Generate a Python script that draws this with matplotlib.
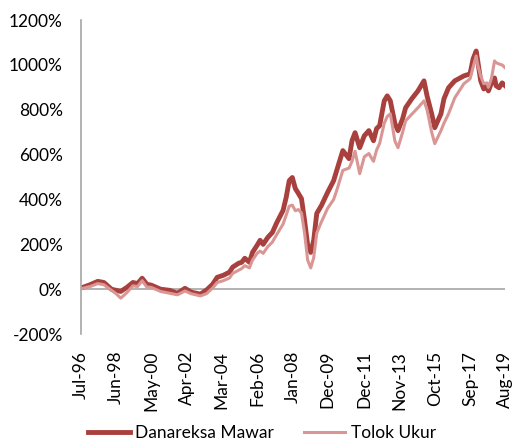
import matplotlib
matplotlib.use("Agg")
import matplotlib.pyplot as plt
import pandas as pd

dates = [
    "1996-07", "1997-01", "1997-06", "1997-10", "1998-03", "1998-06", "1998-09",
    "1999-01", "1999-05", "1999-08", "1999-11", "2000-02", "2000-05", "2000-11",
    "2001-05", "2001-10", "2002-03", "2002-07", "2003-01", "2003-05", "2003-09",
    "2003-12", "2004-04", "2004-08", "2004-10", "2005-02", "2005-04", "2005-06",
    "2005-09", "2005-11", "2006-02", "2006-04", "2006-06", "2006-09", "2006-12",
    "2007-03", "2007-07", "2007-09", "2007-11", "2008-01", "2008-03", "2008-05",
    "2008-07", "2008-09", "2008-11", "2009-01", "2009-03", "2009-05", "2009-08",
    "2009-12", "2010-04", "2010-06", "2010-10", "2011-02", "2011-04", "2011-06",
    "2011-09", "2011-12", "2012-03", "2012-06", "2012-08", "2012-10", "2013-01",
    "2013-03", "2013-05", "2013-08", "2013-10", "2014-01", "2014-03", "2014-07",
    "2014-11", "2015-03", "2015-05", "2015-08", "2015-10", "2016-02", "2016-04",
    "2016-07", "2016-11", "2017-05", "2017-09", "2017-11", "2018-01", "2018-02",
    "2018-04", "2018-06", "2018-08", "2018-09", "2018-11", "2019-01", "2019-02",
    "2019-04", "2019-06", "2019-08",
]

danareksa_mawar = [
    5, 20, 35, 30, 0, -5, -10,
    8, 30, 25, 49, 22, 18, 0,
    -5, -18, 4, -13, -22, -4, 22,
    53, 62, 76, 98, 116, 120, 138,
    120, 164, 196, 218, 200, 231, 253,
    298, 351, 409, 484, 498, 449, 427,
    404, 307, 196, 164, 218, 338, 373,
    431, 484, 529, 618, 582, 662, 698,
    631, 684, 707, 662, 716, 729, 840,
    862, 840, 738, 707, 760, 809, 849,
    884, 929, 862, 782, 720, 782, 849,
    898, 929, 951, 960, 1027, 1062, 1018,
    929, 893, 907, 884, 920, 942, 907,
    898, 920, 907,
]

tolok_ukur = [
    2, 12, 25, 20, -5, -20, -40,
    -15, 15, 12, 38, 10, 8, -10,
    -18, -25, -8, -20, -30, -20, 5,
    30, 38, 50, 70, 85, 92, 105,
    95, 130, 160, 170, 160, 190, 210,
    245, 290, 330, 370, 375, 350, 355,
    340, 250, 130, 95, 140, 250, 300,
    360, 400, 440, 530, 540, 570, 615,
    515, 590, 605, 570, 620, 650, 740,
    770, 782, 660, 631, 700, 751, 780,
    809, 840, 800, 700, 649, 707, 740,
    782, 853, 916, 938, 990, 1040, 1000,
    950, 916, 920, 900, 940, 1018, 1010,
    1004, 1000, 987,
]

tick_labels = ["Jul-96", "Jun-98", "May-00", "Apr-02", "Mar-04", "Feb-06", "Jan-08",
               "Dec-09", "Dec-11", "Nov-13", "Oct-15", "Sep-17", "Aug-19"]
y_ticks = [-200, 0, 200, 400, 600, 800, 1000, 1200]

plt.rcParams['font.family'] = ['Lato', 'DejaVu Sans']

x = pd.to_datetime(dates, format="%Y-%m")
tick_pos = pd.to_datetime(tick_labels, format="%b-%y")

fig = plt.figure(figsize=(5.15, 4.46), dpi=100)
ax = fig.add_axes([0.157, 0.251, 0.824, 0.704])

ax.plot(x, danareksa_mawar, color="#A8403D", lw=3.5, label="Danareksa Mawar",
        solid_joinstyle="round")
ax.plot(x, tolok_ukur, color="#D99694", lw=2.2, label="Tolok Ukur",
        solid_joinstyle="round")

ax.axhline(0, color="#A6A6A6", lw=1.2, zorder=0)
ax.set_xlim(tick_pos[0], tick_pos[-1])
ax.set_ylim(-200, 1200)
ax.set_yticks(y_ticks)
ax.set_yticklabels([f"{v}%" for v in y_ticks])
ax.set_xticks(tick_pos)
ax.set_xticklabels(tick_labels, rotation=90)
ax.tick_params(axis="both", length=0, labelsize=12.5, colors="black")
ax.tick_params(axis="x", pad=12)
ax.tick_params(axis="y", pad=13)

for s in ["top", "right", "bottom"]:
    ax.spines[s].set_visible(False)
ax.spines["left"].set_color("#A6A6A6")
ax.spines["left"].set_linewidth(1.2)

ax.legend(loc="center", bbox_to_anchor=(0.427, -0.315), ncol=2, frameon=False,
          fontsize=12.5, handlelength=2.4, handletextpad=0.3, columnspacing=1.7,
          borderpad=0, borderaxespad=0)

fig.savefig("out.png", dpi=100)
